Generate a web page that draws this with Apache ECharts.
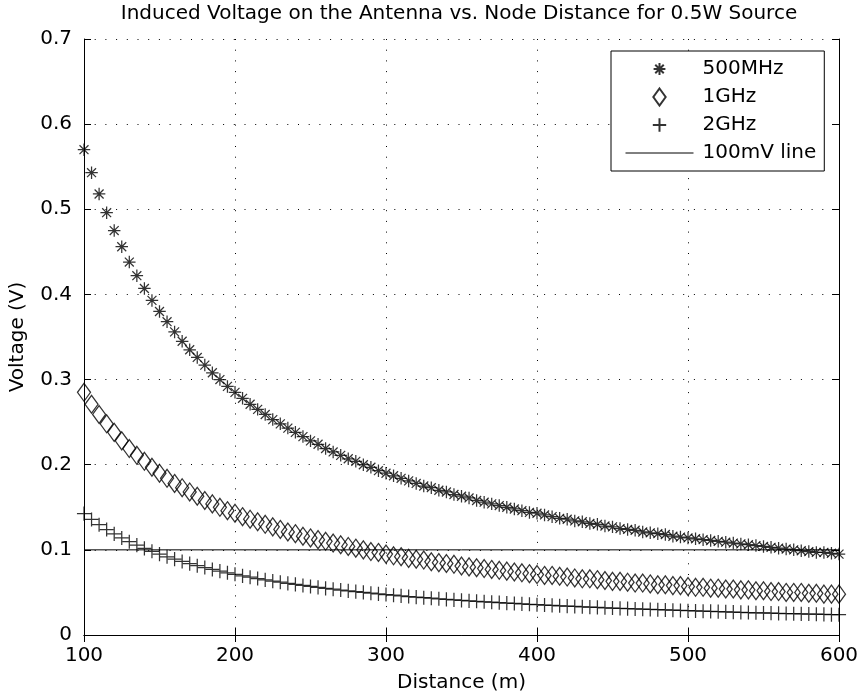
<!DOCTYPE html>
<html><head><meta charset="utf-8">
<script src="https://cdn.jsdelivr.net/npm/echarts@6/dist/echarts.min.js"></script>
<style>html,body{margin:0;padding:0;background:#fff}#c{width:862px;height:699px}</style>
</head><body><div id="c"></div>
<script>
// Distance (m)
const distance = [100,105,110,115,120,125,130,135,140,145,150,155,160,165,170,175,180,185,190,195,
200,205,210,215,220,225,230,235,240,245,250,255,260,265,270,275,280,285,290,295,
300,305,310,315,320,325,330,335,340,345,350,355,360,365,370,375,380,385,390,395,
400,405,410,415,420,425,430,435,440,445,450,455,460,465,470,475,480,485,490,495,
500,505,510,515,520,525,530,535,540,545,550,555,560,565,570,575,580,585,590,595,600];
// Induced voltage (V)
const v500MHz = [0.570,0.543,0.518,0.496,0.475,0.456,0.438,0.422,0.407,0.393,0.380,0.368,0.356,0.345,0.335,0.326,0.317,0.308,0.300,0.292,
0.285,0.278,0.271,0.265,0.259,0.253,0.248,0.243,0.238,0.233,0.228,0.224,0.219,0.215,0.211,0.207,0.204,0.200,0.197,0.193,
0.190,0.187,0.184,0.181,0.178,0.175,0.173,0.170,0.168,0.165,0.163,0.161,0.158,0.156,0.154,0.152,0.150,0.148,0.146,0.144,
0.143,0.141,0.139,0.137,0.136,0.134,0.133,0.131,0.130,0.128,0.127,0.125,0.124,0.123,0.121,0.120,0.119,0.118,0.116,0.115,
0.114,0.113,0.112,0.111,0.110,0.109,0.108,0.107,0.106,0.105,0.104,0.103,0.102,0.101,0.100,0.099,0.098,0.097,0.097,0.096,0.095];
const v1GHz = [0.285,0.271,0.259,0.248,0.238,0.228,0.219,0.211,0.204,0.197,0.190,0.184,0.178,0.173,0.168,0.163,0.158,0.154,0.150,0.146,
0.143,0.139,0.136,0.133,0.130,0.127,0.124,0.121,0.119,0.116,0.114,0.112,0.110,0.108,0.106,0.104,0.102,0.100,0.098,0.097,
0.095,0.093,0.092,0.090,0.089,0.088,0.086,0.085,0.084,0.083,0.081,0.080,0.079,0.078,0.077,0.076,0.075,0.074,0.073,0.072,
0.071,0.070,0.070,0.069,0.068,0.067,0.066,0.066,0.065,0.064,0.063,0.063,0.062,0.061,0.061,0.060,0.059,0.059,0.058,0.058,
0.057,0.056,0.056,0.055,0.055,0.054,0.054,0.053,0.053,0.052,0.052,0.051,0.051,0.050,0.050,0.050,0.049,0.049,0.048,0.048,0.048];
const v2GHz = [0.1425,0.1357,0.1295,0.1239,0.1188,0.1140,0.1096,0.1056,0.1018,0.0983,0.0950,0.0919,0.0891,0.0864,0.0838,0.0814,0.0792,0.0770,0.0750,0.0731,
0.0713,0.0695,0.0679,0.0663,0.0648,0.0633,0.0620,0.0606,0.0594,0.0582,0.0570,0.0559,0.0548,0.0538,0.0528,0.0518,0.0509,0.0500,0.0491,0.0483,
0.0475,0.0467,0.0460,0.0452,0.0445,0.0438,0.0432,0.0425,0.0419,0.0413,0.0407,0.0401,0.0396,0.0390,0.0385,0.0380,0.0375,0.0370,0.0365,0.0361,
0.0356,0.0352,0.0348,0.0343,0.0339,0.0335,0.0331,0.0328,0.0324,0.0320,0.0317,0.0313,0.0310,0.0306,0.0303,0.0300,0.0297,0.0294,0.0291,0.0288,
0.0285,0.0282,0.0279,0.0277,0.0274,0.0271,0.0269,0.0266,0.0264,0.0261,0.0259,0.0257,0.0254,0.0252,0.0250,0.0248,0.0246,0.0244,0.0242,0.0239,0.0238];
// 100 mV reference line
const refLineX = [100, 600];
const refLineY = [0.1, 0.1];
// Axis ticks
const xTicks = [100, 200, 300, 400, 500, 600];
const yTicks = [0, 0.1, 0.2, 0.3, 0.4, 0.5, 0.6, 0.7];

const FONT = 'DejaVu Sans';
// symbols drawn inside a -7..7 box (invisible move-to corners keep the box)
const STAR = 'path://M-7,-7M7,7M0,-4.6L0,4.6M-4.6,0L4.6,0M-3.3,-3.3L3.3,3.3M-3.3,3.3L3.3,-3.3';
const DIAMOND = 'path://M-7,-7M7,7M0,-6.6L4.8,0L0,6.6L-4.8,0Z';
const PLUS = 'path://M-7,-7M7,7M0,-5.2L0,5.2M-5.2,0L5.2,0';
const HLINE = 'path://M-34,-9M34,9M-34,0L34,0';

const pairs = (xs, ys) => xs.map((x, i) => [x, ys[i]]);
const markerStyle = {color: 'rgba(0,0,0,0)', borderColor: '#000', borderWidth: 1.25};

const xMin = xTicks[0], xMax = xTicks[xTicks.length - 1], xInt = xTicks[1] - xTicks[0];
const yMin = yTicks[0], yMax = yTicks[yTicks.length - 1], yInt = 0.1;

const chart = echarts.init(document.getElementById('c'), null, {renderer: 'canvas'});
chart.setOption({
  animation: false,
  backgroundColor: '#fff',
  textStyle: {fontFamily: FONT},
  title: {
    text: 'Induced Voltage on the Antenna vs. Node Distance for 0.5W Source',
    left: 459, top: 4, textAlign: 'center', padding: 0,
    textStyle: {fontFamily: FONT, fontSize: 20, fontWeight: 'normal', color: '#000'}
  },
  grid: {left: 84, right: 23, top: 39, bottom: 64, containLabel: false},
  legend: {
    orient: 'vertical', left: 611, top: 51,
    padding: [8, 8, 8, 14], itemGap: 8, itemWidth: 68, itemHeight: 18,
    backgroundColor: '#fff', borderColor: '#000', borderWidth: 1,
    selectedMode: false,
    textStyle: {fontFamily: FONT, fontSize: 20, color: '#000', lineHeight: 20, padding: [0, 0, 0, 4]},
    data: [
      {name: '500MHz', icon: STAR},
      {name: '1GHz', icon: DIAMOND},
      {name: '2GHz', icon: PLUS},
      {name: '100mV line', icon: HLINE, itemStyle: {color: 'rgba(0,0,0,0)', borderColor: '#000', borderWidth: 1}}
    ]
  },
  xAxis: [{
    type: 'value', min: xMin, max: xMax, interval: xInt,
    name: 'Distance (m)', nameLocation: 'middle', nameGap: 38,
    nameTextStyle: {fontFamily: FONT, fontSize: 20, color: '#000'},
    axisLine: {show: true, lineStyle: {color: '#000', width: 1}},
    axisTick: {show: true, inside: true, length: 7, lineStyle: {color: '#000'}},
    axisLabel: {show: true, margin: 11, fontFamily: FONT, fontSize: 20, color: '#000'},
    splitLine: {show: true, lineStyle: {color: '#000', width: 1, type: [1, 9.7]}}
  }, {
    type: 'value', position: 'top', min: xMin, max: xMax, interval: xInt,
    axisLine: {show: true, lineStyle: {color: '#000', width: 1}},
    axisTick: {show: true, inside: true, length: 7, lineStyle: {color: '#000'}},
    axisLabel: {show: false}, splitLine: {show: false}
  }],
  yAxis: [{
    type: 'value', min: yMin, max: yMax, interval: yInt,
    name: 'Voltage (V)', nameLocation: 'middle', nameGap: 56, nameRotate: 90,
    nameTextStyle: {fontFamily: FONT, fontSize: 20, color: '#000'},
    axisLine: {show: true, lineStyle: {color: '#000', width: 1}},
    axisTick: {show: true, inside: true, length: 7, lineStyle: {color: '#000'}},
    axisLabel: {show: true, margin: 12, fontFamily: FONT, fontSize: 20, color: '#000'},
    splitLine: {show: true, lineStyle: {color: '#000', width: 1, type: [1, 9.7]}}
  }, {
    type: 'value', position: 'right', min: yMin, max: yMax, interval: yInt,
    axisLine: {show: true, lineStyle: {color: '#000', width: 1}},
    axisTick: {show: true, inside: true, length: 7, lineStyle: {color: '#000'}},
    axisLabel: {show: false}, splitLine: {show: false}
  }],
  series: [
    {name: '500MHz', type: 'scatter', data: pairs(distance, v500MHz), symbol: STAR, symbolSize: 19,
     itemStyle: markerStyle, emphasis: {disabled: true}, clip: false},
    {name: '1GHz', type: 'scatter', data: pairs(distance, v1GHz), symbol: DIAMOND, symbolSize: 19,
     itemStyle: markerStyle, emphasis: {disabled: true}, clip: false},
    {name: '2GHz', type: 'scatter', data: pairs(distance, v2GHz), symbol: PLUS, symbolSize: 19,
     itemStyle: markerStyle, emphasis: {disabled: true}, clip: false},
    {name: '100mV line', type: 'line', data: pairs(refLineX, refLineY), symbol: 'none',
     lineStyle: {color: '#000', width: 1}, itemStyle: {color: '#000'}, emphasis: {disabled: true}}
  ]
});
</script>
</body></html>
